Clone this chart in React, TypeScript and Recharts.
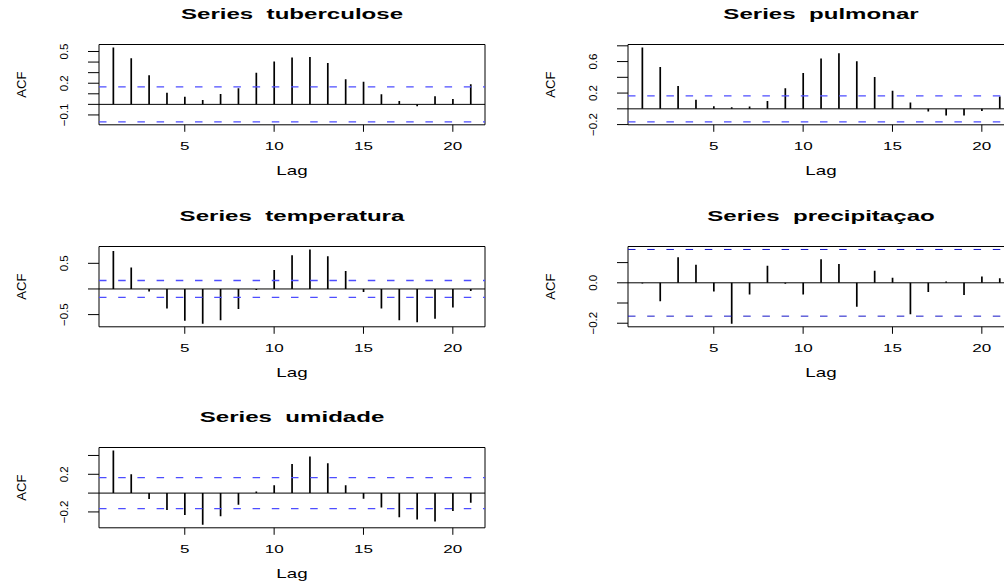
import React from 'react';
import {
    ComposedChart,
    Bar,
    XAxis,
    YAxis,
    ReferenceLine,
    ReferenceArea,
} from 'recharts';

// lags shown on the x axis (lag 0 dropped)
const lags = [1, 2, 3, 4, 5, 6, 7, 8, 9, 10, 11, 12, 13, 14, 15, 16, 17, 18, 19, 20, 21];
const lagTicks = [5, 10, 15, 20];

// ACF values
const tuberculose = [0.538, 0.437, 0.275, 0.111, 0.073, 0.041, 0.098, 0.152, 0.300, 0.405, 0.443, 0.449, 0.392, 0.237, 0.215, 0.095, 0.032, -0.018, 0.076, 0.051, 0.190];
const pulmonar = [0.779, 0.532, 0.289, 0.115, 0.034, 0.021, 0.030, 0.098, 0.260, 0.455, 0.638, 0.706, 0.604, 0.404, 0.230, 0.081, -0.034, -0.085, -0.085, -0.026, 0.155];
const temperatura = [0.74, 0.42, -0.05, -0.38, -0.62, -0.68, -0.61, -0.39, -0.02, 0.37, 0.656, 0.77, 0.64, 0.35, -0.06, -0.38, -0.61, -0.65, -0.58, -0.36, -0.04];
const precipitacao = [-0.003, -0.091, 0.126, 0.089, -0.043, -0.203, -0.058, 0.084, -0.005, -0.058, 0.116, 0.093, -0.119, 0.060, 0.025, -0.155, -0.045, 0.007, -0.060, 0.031, 0.023];
const umidade = [0.453, 0.200, -0.063, -0.179, -0.232, -0.337, -0.246, -0.123, 0.018, 0.084, 0.309, 0.389, 0.316, 0.084, -0.060, -0.154, -0.256, -0.281, -0.302, -0.189, -0.102];

// 95% bound, 1.96/sqrt(n)
const clim = 0.165;

const titles = ['Series  tuberculose', 'Series  pulmonar', 'Series  temperatura', 'Series  precipitaçao', 'Series  umidade'];
const yTicks = [
    [-0.1, 0, 0.1, 0.2, 0.3, 0.4, 0.5],
    [-0.2, 0, 0.2, 0.4, 0.6, 0.8],
    [-0.5, 0, 0.5],
    [-0.2, -0.1, 0, 0.1],
    [-0.2, 0, 0.2, 0.4],
];
const yLabels = [
    [-0.1, 0.2, 0.5],
    [-0.2, 0.2, 0.6],
    [-0.5, 0.5],
    [-0.2, 0],
    [-0.2, 0.2],
];
const seriesList = [tuberculose, pulmonar, temperatura, precipitacao, umidade];

const FONT = '"Liberation Sans", Arial, Helvetica, sans-serif';
const CHART_W = 500;
const CHART_H = 195;
const Y_W = 99;
const BOX_W = 386;
const BOX_H = 80.3;
const TOP = 44.5;
const X_H = 30;
const colLeft = [0, 528.7];
const rowTop = [0, 202, 403];

const fmt = (v: number) => v.toFixed(1).replace('-', '\u2212');

const Spike = (props: any) => {
    const {x, y, width, height} = props;
    if (x == null || y == null) return null;
    const cx = x + width / 2;
    return <line x1={cx} x2={cx} y1={y} y2={y + height} stroke="#000" strokeWidth={1.7}/>;
};

const XTick = (props: any) => {
    const {x, y, payload} = props;
    return (
        <text transform={`translate(${x},${y + 16}) scale(1.55,1)`} textAnchor="middle"
              fontSize={11} fontFamily={FONT} fill="#000">
            {payload.value}
        </text>
    );
};

const makeYTick = (labeled: number[]) => (props: any) => {
    const {y, payload} = props;
    const show = labeled.some(l => Math.abs(l - payload.value) < 1e-9);
    if (!show) return <g/>;
    return (
        <text transform={`translate(${Y_W - 35},${y}) rotate(-90)`} textAnchor="middle"
              dominantBaseline="central" style={{fontSize: 11.5, fontFamily: FONT}} fill="#000">
            {fmt(payload.value)}
        </text>
    );
};

const AcfPanel = ({idx}: {idx: number}) => {
    const values = seriesList[idx];
    const data = lags.map((lag, i) => ({lag, acf: values[i]}));
    const lo = Math.min(-clim, ...values);
    const hi = Math.max(clim, ...values);
    const pad = (hi - lo) * 0.04;
    const domain: [number, number] = [lo - pad, hi + pad];
    const col = idx % 2;
    const row = Math.floor(idx / 2);
    const ciColor = idx === 3 ? '#1414c8' : '#4d4dff';
    const ciWidth = idx === 3 ? 1 : 1.4;
    const cx = Y_W + BOX_W / 2;
    const bottom = TOP + BOX_H;

    return (
        <div style={{position: 'absolute', left: colLeft[col], top: rowTop[row], width: CHART_W, height: CHART_H}}>
            <ComposedChart width={CHART_W} height={CHART_H} data={data}
                           margin={{top: TOP, right: CHART_W - Y_W - BOX_W, bottom: CHART_H - TOP - BOX_H - X_H, left: 0}}>
                <XAxis dataKey="lag" type="number" domain={[0.2, 21.8]} ticks={lagTicks} allowDataOverflow
                       interval={0} height={X_H} tickSize={7} axisLine={false}
                       tickLine={{stroke: '#000'}} tick={<XTick/>}/>
                <YAxis type="number" domain={domain} ticks={yTicks[idx]} allowDataOverflow interval={0}
                       width={Y_W} tickSize={11} axisLine={false}
                       tickLine={{stroke: '#000'}} tick={makeYTick(yLabels[idx])}/>
                <ReferenceLine y={0} stroke="#000" strokeWidth={1}/>
                <ReferenceLine y={clim} stroke={ciColor} strokeWidth={ciWidth} strokeDasharray="7.5 11.7"/>
                <ReferenceLine y={-clim} stroke={ciColor} strokeWidth={ciWidth} strokeDasharray="7.5 11.7"/>
                <Bar dataKey="acf" barSize={2} isAnimationActive={false} shape={Spike}/>
                <ReferenceArea x1={0.2} x2={21.8} y1={domain[0]} y2={domain[1]} fill="none" fillOpacity={0}
                               stroke="#000" strokeWidth={1} ifOverflow="visible"/>
            </ComposedChart>
            <svg width={CHART_W} height={CHART_H}
                 style={{position: 'absolute', left: 0, top: 0, pointerEvents: 'none', overflow: 'visible'}}>
                <text transform={`translate(${cx},${TOP - 25.5}) scale(1.72,1)`} textAnchor="middle"
                      fontSize={14} fontWeight="bold" fontFamily={FONT} style={{whiteSpace: 'pre'}}>
                    {titles[idx]}
                </text>
                <text transform={`translate(${cx},${bottom + 50.5}) scale(1.5,1)`} textAnchor="middle"
                      fontSize={12.5} fontFamily={FONT}>
                    Lag
                </text>
                <text transform={`translate(${Y_W - 78},${TOP + BOX_H / 2}) rotate(-90)`} textAnchor="middle"
                      dominantBaseline="central" fontSize={13} fontFamily={FONT}>
                    ACF
                </text>
            </svg>
        </div>
    );
};

const App = () => {
    return (
        <div style={{position: 'absolute', left: 0, top: 0, width: 1004, height: 585, overflow: 'hidden', background: '#fff'}}>
            {[0, 1, 2, 3, 4].map(i => <AcfPanel key={i} idx={i}/>)}
        </div>
    );
};

export default App;
